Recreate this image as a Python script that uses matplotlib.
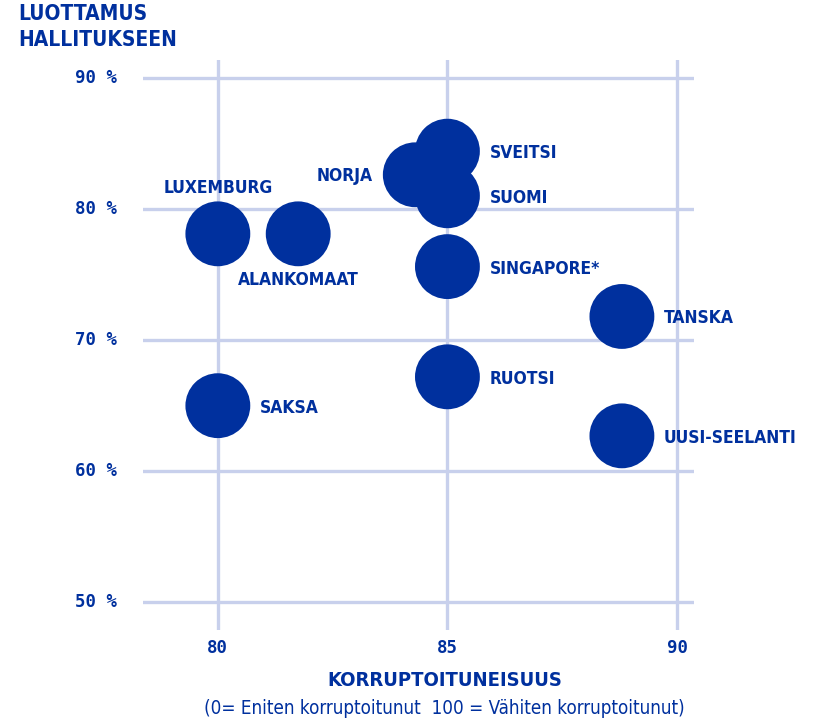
import matplotlib
matplotlib.use('Agg')
import matplotlib.pyplot as plt

# values
countries = ['LUXEMBURG', 'ALANKOMAAT', 'NORJA', 'SVEITSI', 'SUOMI',
             'SINGAPORE*', 'TANSKA', 'RUOTSI', 'SAKSA', 'UUSI-SEELANTI']
corruption = [80.0, 81.75, 84.3, 85.0, 85.0, 85.0, 88.8, 85.0, 80.0, 88.8]
trust = [78.1, 78.1, 82.6, 84.4, 81.0, 75.6, 71.8, 67.2, 65.0, 62.7]
label_side = ['top', 'bottom', 'left', 'right', 'right',
              'right', 'right', 'right', 'right', 'right']

x_ticks = [80, 85, 90]
y_ticks = [50, 60, 70, 80, 90]

blue = '#00309e'
grid_col = '#c8d0ec'
sans = dict(family='DejaVu Sans', fontstretch='condensed', color=blue)
mono = dict(family='DejaVu Sans Mono', fontweight='bold', color=blue)

fig = plt.figure(figsize=(8.13, 7.19), dpi=100)
ax = fig.add_axes([143 / 813, 1 - 630 / 719, 551 / 813, 570 / 719])
ax.set_xlim(78.37, 90.37)
ax.set_ylim(47.9, 91.35)
for s in ax.spines.values():
    s.set_visible(False)
ax.set_xticks([])
ax.set_yticks([])

for xv in x_ticks:
    ax.axvline(xv, color=grid_col, lw=2.4, zorder=1)
    ax.annotate(str(xv), xy=(xv, 0), xycoords=('data', 'axes fraction'),
                xytext=(0, -18), textcoords='offset pixels', ha='center', va='center',
                fontsize=12.5, **mono)
for yv in y_ticks:
    ax.axhline(yv, color=grid_col, lw=2.4, zorder=1)
    ax.annotate(f'{yv} %', xy=(0, yv), xycoords=('axes fraction', 'data'),
                xytext=(-26, 0), textcoords='offset pixels', ha='right', va='center',
                fontsize=12.5, **mono)

ax.scatter(corruption, trust, s=2180, color=blue, edgecolors='none', zorder=3)

offsets = {'right': (42, -2, 'left', 'center'),
           'left': (-43, -1, 'right', 'center'),
           'top': (0, 46, 'center', 'center'),
           'bottom': (0, -46, 'center', 'center')}
for name, xv, yv, side in zip(countries, corruption, trust, label_side):
    dx, dy, ha, va = offsets[side]
    ax.annotate(name, xy=(xv, yv), xytext=(dx, dy), textcoords='offset pixels',
                ha=ha, va=va, fontsize=12.5, fontweight='bold', zorder=4, **sans)

fig.text(18 / 813, 1 - 4 / 719, 'LUOTTAMUS\nHALLITUKSEEN', ha='left', va='top',
         fontsize=15, fontweight='bold', linespacing=1.4, **sans)
fig.text(445 / 813, 1 - 681 / 719, 'KORRUPTOITUNEISUUS', ha='center', va='center',
         fontsize=14.5, fontweight='bold', **sans)
fig.text(444 / 813, 1 - 708 / 719,
         '(0= Eniten korruptoitunut  100 = Vähiten korruptoitunut)',
         ha='center', va='center', fontsize=13.5, **sans)

fig.savefig('out.png', dpi=100)
